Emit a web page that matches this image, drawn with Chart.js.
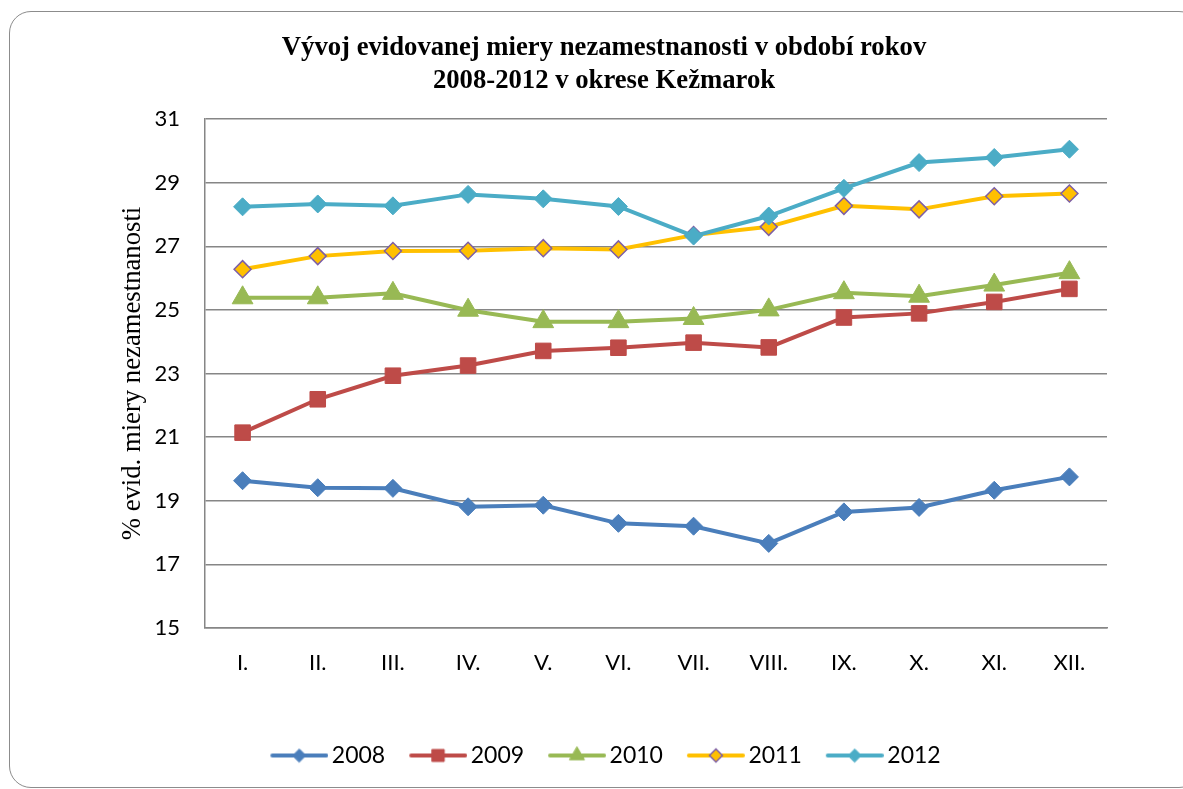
<!DOCTYPE html>
<html>
<head>
<meta charset="utf-8">
<script src="https://cdn.jsdelivr.net/npm/chart.js@4"></script>
<style>
    body { margin: 0; background: #fff; overflow: hidden; }
    #frame {
        position: absolute; left: 9px; top: 11px;
        width: 1190px; height: 775px;
        border: 1.5px solid #8c8c8c; border-radius: 22px;
    }
    #wrap { position: absolute; left: 0; top: 0; width: 1183px; height: 789px; }
</style>
</head>
<body>
<div id="frame"></div>
<div id="wrap"><canvas id="lineChart"></canvas></div>
<script>
const months = ['I.', 'II.', 'III.', 'IV.', 'V.', 'VI.', 'VII.', 'VIII.', 'IX.', 'X.', 'XI.', 'XII.'];
const years = ['2008', '2009', '2010', '2011', '2012'];
const v2008 = [19.63, 19.41, 19.39, 18.81, 18.86, 18.29, 18.20, 17.66, 18.65, 18.79, 19.33, 19.75];
const v2009 = [21.14, 22.19, 22.93, 23.25, 23.71, 23.81, 23.97, 23.82, 24.76, 24.89, 25.25, 25.66];
const v2010 = [25.38, 25.38, 25.52, 24.99, 24.63, 24.63, 24.73, 25.00, 25.54, 25.43, 25.78, 26.17];
const v2011 = [26.28, 26.69, 26.85, 26.86, 26.94, 26.90, 27.35, 27.61, 28.27, 28.16, 28.57, 28.66];
const v2012 = [28.24, 28.33, 28.27, 28.63, 28.49, 28.25, 27.32, 27.95, 28.82, 29.63, 29.79, 30.05];
const yTicks = [15, 17, 19, 21, 23, 25, 27, 29, 31];

const tickFont = { family: 'Lato', size: 22 };

// line style per year: color, marker, marker size, marker fill/border
const styles = [
    { color: '#4a7ebb', point: 'rectRot', r: 9, fill: '#4a7ebb', border: '#4a7ebb', bw: 1, lr: 6.5 },
    { color: '#be4b48', point: 'rect', r: 11, fill: '#be4b48', border: '#be4b48', bw: 1, lr: 8.5 },
    { color: '#98b954', point: 'triangle', r: 12, fill: '#98b954', border: '#98b954', bw: 1, lr: 8.5 },
    { color: '#ffc000', point: 'rectRot', r: 8.5, fill: '#ffc000', border: '#7d5fa6', bw: 1.5, lr: 6.5 },
    { color: '#4bacc6', point: 'rectRot', r: 9, fill: '#4bacc6', border: '#4bacc6', bw: 1, lr: 6.5 }
];
const values = [v2008, v2009, v2010, v2011, v2012];

/* legend sample: a short line with the marker in the middle */
function legendIcon(s) {
    const c = document.createElement('canvas');
    c.width = 69; c.height = 26;
    const ctx = c.getContext('2d');
    ctx.strokeStyle = s.color;
    ctx.lineWidth = 4;
    ctx.lineCap = 'round';
    ctx.beginPath();
    ctx.moveTo(13, 13);
    ctx.lineTo(67, 13);
    ctx.stroke();
    ctx.fillStyle = s.fill;
    ctx.strokeStyle = s.border;
    ctx.lineWidth = s.bw;
    Chart.helpers.drawPoint(ctx, { pointStyle: s.point, radius: s.lr, borderWidth: s.bw }, 40, 13);
    return c;
}

new Chart(document.getElementById('lineChart'), {
    type: 'line',
    data: {
        labels: months,
        datasets: years.map((y, i) => ({
            label: y,
            data: values[i],
            order: 4 - i,
            borderColor: styles[i].color,
            borderWidth: 4,
            pointStyle: styles[i].point,
            pointRadius: styles[i].r,
            pointBackgroundColor: styles[i].fill,
            pointBorderColor: styles[i].border,
            pointBorderWidth: styles[i].bw,
            tension: 0
        }))
    },
    options: {
        responsive: true,
        maintainAspectRatio: false,
        animation: false,
        events: [],
        layout: { padding: { left: 101, right: 76, top: 0, bottom: 12 } },
        plugins: {
            title: {
                display: true,
                text: ['Vývoj evidovanej miery nezamestnanosti v období rokov', '2008-2012 v okrese Kežmarok'],
                color: '#000',
                font: { family: 'Liberation Serif', size: 26.7, weight: 'bold', lineHeight: 1.236 },
                padding: { top: 32, bottom: 21 }
            },
            legend: {
                position: 'bottom',
                labels: {
                    color: '#000',
                    font: { family: 'Lato', size: 23 },
                    usePointStyle: true,
                    pointStyleWidth: 53,
                    padding: 21,
                    generateLabels: () => years.map((y, i) => ({
                        text: y,
                        pointStyle: legendIcon(styles[i]),
                        fontColor: '#000',
                        hidden: false,
                        datasetIndex: i,
                        lineWidth: 0
                    }))
                }
            },
            tooltip: { enabled: false }
        },
        scales: {
            x: {
                offset: true,
                grid: { display: false },
                border: { display: true, color: '#868686', width: 1.5 },
                ticks: { color: '#000', font: tickFont, padding: 14, maxRotation: 0 },
                afterFit: (scale) => { scale.height = 95; }
            },
            y: {
                min: 15,
                max: 31,
                afterBuildTicks: (scale) => { scale.ticks = yTicks.map(v => ({ value: v })); },
                grid: { color: '#868686', lineWidth: 1.5, drawTicks: false },
                border: { display: true, color: '#868686', width: 1.5 },
                ticks: { color: '#000', font: tickFont, padding: 25 },
                title: {
                    display: true,
                    text: '% evid. miery nezamestnanosti',
                    color: '#000',
                    font: { family: 'Liberation Serif', size: 26.7 },
                    padding: { top: 16, bottom: 0 }
                },
                afterFit: (scale) => { scale.width = 104; }
            }
        }
    }
});
</script>
</body>
</html>
